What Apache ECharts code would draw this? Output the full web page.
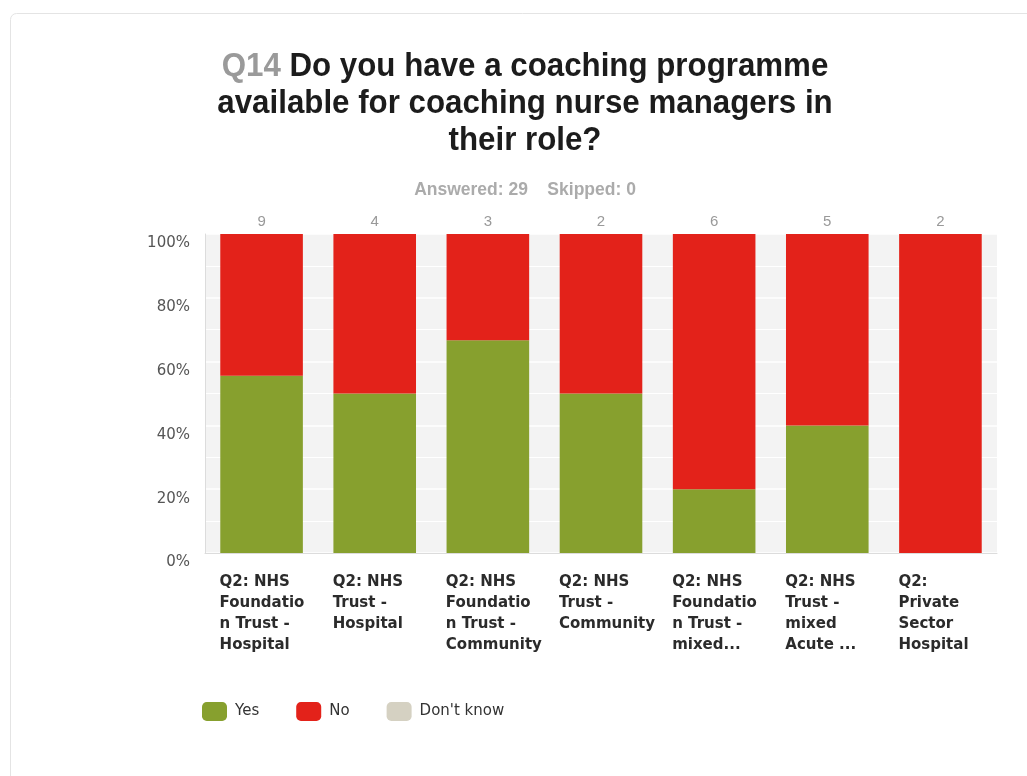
<!DOCTYPE html>
<html>
<head>
<meta charset="utf-8">
<script src="https://cdn.jsdelivr.net/npm/echarts@6/dist/echarts.min.js"></script>
<style>
  html, body { margin: 0; padding: 0; background: #fff; }
  #chart { width: 1027px; height: 776px; }
</style>
</head>
<body>
<div id="chart"></div>
<script>
// Respondent groups (labels wrapped as displayed under each bar)
const categories = [
  'Q2: NHS\nFoundatio\nn Trust -\nHospital',
  'Q2: NHS\nTrust -\nHospital',
  'Q2: NHS\nFoundatio\nn Trust -\nCommunity',
  'Q2: NHS\nTrust -\nCommunity',
  'Q2: NHS\nFoundatio\nn Trust -\nmixed...',
  'Q2: NHS\nTrust -\nmixed\nAcute ...',
  'Q2:\nPrivate\nSector\nHospital'
];
// Number of answers per group
const counts = ['9', '4', '3', '2', '6', '5', '2'];
// Share of answers per group, in percent
const yesPct = [55.6, 50, 66.7, 50, 20, 40, 0];
const noPct = [44.4, 50, 33.3, 50, 80, 60, 100];
const dontKnowPct = [0, 0, 0, 0, 0, 0, 0];
const yTicks = [0, 20, 40, 60, 80, 100];

const chart = echarts.init(document.getElementById('chart'), null, { renderer: 'canvas' });

const arial = 'Liberation Sans';
const small = 'DejaVu Sans';

chart.setOption({
  animation: false,
  backgroundColor: '#fff',
  textStyle: { fontFamily: small },
  graphic: [{
    // card outline
    type: 'rect',
    z: -10,
    shape: { x: 10.5, y: 13.5, width: 1100, height: 900, r: 6 },
    style: { fill: '#fff', stroke: '#e4e4e4', lineWidth: 1 }
  }, {
    // question title, slightly condensed
    type: 'text',
    x: 525,
    y: 104,
    scaleX: 0.92,
    style: {
      text: '{q|Q14} Do you have a coaching programme\navailable for coaching nurse managers in\ntheir role?',
      align: 'center',
      verticalAlign: 'middle',
      font: 'bold 34px "Liberation Sans"',
      fill: '#1c1c1c',
      lineHeight: 37,
      rich: {
        q: { font: 'bold 34px "Liberation Sans"', fill: '#9a9a9a', lineHeight: 37 }
      }
    }
  }, {
    type: 'text',
    x: 525,
    y: 190,
    style: {
      text: 'Answered: 29    Skipped: 0',
      align: 'center',
      verticalAlign: 'middle',
      font: 'bold 17.5px "Liberation Sans"',
      fill: '#ababab'
    }
  }],
  legend: {
    left: 202,
    top: 702,
    padding: 0,
    itemWidth: 25,
    itemHeight: 19,
    itemGap: 37,
    icon: 'roundRect',
    textStyle: { fontFamily: small, fontSize: 15, color: '#333', padding: [0, 0, 0, 3] },
    data: ['Yes', 'No', "Don't know"]
  },
  grid: {
    left: 205,
    right: 30,
    top: 234,
    bottom: 223,
    show: true,
    backgroundColor: '#f3f3f3',
    borderWidth: 0
  },
  xAxis: [{
    type: 'category',
    data: categories,
    position: 'bottom',
    axisLine: { show: true, lineStyle: { color: '#dcdcdc' } },
    axisTick: { show: false },
    axisLabel: {
      interval: 0,
      align: 'left',
      verticalAlign: 'top',
      margin: 19,
      padding: [0, 0, 0, -42],
      fontFamily: small,
      fontSize: 15,
      fontWeight: 'bold',
      color: '#2b2b2b',
      lineHeight: 20.8
    }
  }, {
    type: 'category',
    data: counts,
    position: 'top',
    axisLine: { show: false },
    axisTick: { show: false },
    axisLabel: { interval: 0, margin: 5, fontFamily: arial, fontSize: 15, color: '#999' }
  }],
  yAxis: {
    type: 'value',
    min: yTicks[0],
    max: yTicks[yTicks.length - 1],
    interval: 20,
    axisLine: { show: true, lineStyle: { color: '#dcdcdc' } },
    axisTick: { show: false },
    axisLabel: {
      formatter: '{value}%',
      margin: 15,
      verticalAlign: 'top',
      padding: [2, 0, 0, 0],
      fontFamily: small,
      fontSize: 15,
      color: '#555'
    },
    splitLine: { show: true, lineStyle: { color: '#ffffff', width: 1.5 } },
    minorTick: { show: false, splitNumber: 2 },
    minorSplitLine: { show: true, lineStyle: { color: '#ffffff', width: 1 } }
  },
  series: [{
    name: 'Yes',
    type: 'bar',
    stack: 'all',
    barWidth: '73%',
    itemStyle: { color: '#87a02e' },
    data: yesPct
  }, {
    name: 'No',
    type: 'bar',
    stack: 'all',
    itemStyle: { color: '#e3221a' },
    data: noPct
  }, {
    name: "Don't know",
    type: 'bar',
    stack: 'all',
    itemStyle: { color: '#d5d1c2' },
    data: dontKnowPct
  }]
});
</script>
</body>
</html>
